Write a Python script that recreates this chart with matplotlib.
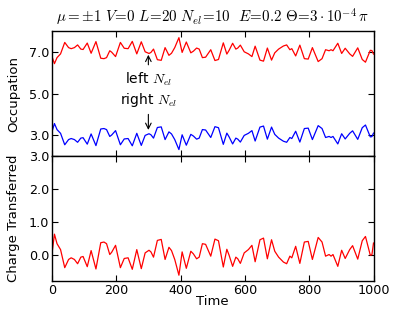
import numpy as np
import matplotlib
matplotlib.use("Agg")
import matplotlib.pyplot as plt
from matplotlib.ticker import FormatStrFormatter

# ---------------------------------------------------------------------------
# Data
# ---------------------------------------------------------------------------

time = [0, 8, 16, 27, 40, 52, 60, 70, 80, 90,
        97, 110, 122, 137, 152, 162, 170, 180, 186, 198,
        213, 225, 237, 250, 264, 278, 290, 302, 308, 316,
        328, 340, 352, 364, 372, 382, 395, 405, 418, 432,
        440, 450, 458, 468, 478, 494, 507, 518, 533, 544,
        551, 562, 572, 578, 586, 598, 611, 622, 632, 647,
        658, 670, 683, 693, 705, 720, 730, 740, 746, 758,
        771, 785, 797, 810, 828, 840, 851, 862, 868, 874,
        889, 901, 912, 926, 935, 951, 965, 975, 990, 995,
        1000]

charge = [0.00, 0.62, 0.33, 0.15, -0.40, -0.15, -0.10, -0.15, -0.28, -0.08,
          -0.06, -0.37, 0.12, -0.44, 0.36, 0.38, 0.33, 0.00, 0.07, 0.28,
          -0.40, -0.12, -0.10, -0.45, 0.15, -0.43, 0.05, 0.13, 0.08, -0.08,
          0.43, 0.46, -0.15, 0.22, 0.12, -0.15, -0.63, 0.08, -0.42, 0.10,
          0.02, -0.13, -0.08, 0.33, 0.31, -0.05, 0.47, 0.42, -0.38, 0.16,
          -0.02, -0.36, -0.08, -0.13, -0.27, 0.05, 0.15, 0.28, -0.22, 0.45,
          0.50, -0.13, 0.45, 0.10, -0.08, -0.23, -0.28, -0.05, -0.10, 0.25,
          -0.27, 0.38, 0.40, -0.15, 0.52, 0.38, -0.05, 0.00, -0.05, 0.00,
          -0.36, 0.13, -0.12, 0.15, 0.27, -0.14, 0.42, 0.55, -0.02, -0.01,
          0.35]

left_occ = [6.80, 6.44, 6.73, 6.91, 7.46, 7.21, 7.16, 7.21, 7.34, 7.14,
            7.12, 7.43, 6.94, 7.50, 6.70, 6.68, 6.73, 7.06, 6.99, 6.78,
            7.46, 7.18, 7.16, 7.51, 6.91, 7.49, 7.01, 6.93, 6.98, 7.14,
            6.63, 6.60, 7.21, 6.84, 6.94, 7.21, 7.69, 6.98, 7.48, 6.96,
            7.04, 7.19, 7.14, 6.73, 6.75, 7.11, 6.59, 6.64, 7.44, 6.90,
            7.08, 7.42, 7.14, 7.19, 7.33, 7.01, 6.91, 6.78, 7.28, 6.61,
            6.56, 7.19, 6.61, 6.96, 7.14, 7.29, 7.34, 7.11, 7.16, 6.81,
            7.33, 6.68, 6.66, 7.21, 6.54, 6.68, 7.11, 7.06, 7.11, 7.06,
            7.42, 6.93, 7.18, 6.91, 6.79, 7.20, 6.64, 6.51, 7.08, 7.07,
            6.90]

right_occ = [3.15, 3.56, 3.27, 3.09, 2.54, 2.79, 2.84, 2.79, 2.66, 2.86,
             2.88, 2.57, 3.06, 2.50, 3.30, 3.32, 3.27, 2.94, 3.01, 3.22,
             2.54, 2.82, 2.84, 2.49, 3.09, 2.51, 2.99, 3.07, 3.02, 2.86,
             3.37, 3.40, 2.79, 3.16, 3.06, 2.79, 2.31, 3.02, 2.52, 3.04,
             2.96, 2.81, 2.86, 3.27, 3.25, 2.89, 3.41, 3.36, 2.56, 3.10,
             2.92, 2.58, 2.86, 2.81, 2.67, 2.99, 3.09, 3.22, 2.72, 3.39,
             3.44, 2.81, 3.39, 3.04, 2.86, 2.71, 2.66, 2.89, 2.84, 3.19,
             2.67, 3.32, 3.34, 2.79, 3.46, 3.32, 2.89, 2.94, 2.89, 2.94,
             2.58, 3.07, 2.82, 3.09, 3.21, 2.80, 3.36, 3.49, 2.92, 2.93,
             3.10]

occ_ticks = [3.0, 5.0, 7.0]
charge_ticks = [0.0, 1.0, 2.0, 3.0]
time_ticks = [0, 200, 400, 600, 800, 1000]

title = (r"$\mu=\pm1\ V\!=\!0\ L\!=\!20\ N_{el}\!=\!10\ \ "
         r"E\!=\!0.2\ \Theta\!=\!3\cdot10^{-4}\,\pi$")

# ---------------------------------------------------------------------------
# Plot
# ---------------------------------------------------------------------------

plt.rcParams["mathtext.fontset"] = "cm"
plt.rcParams["font.family"] = "DejaVu Sans"

fig, (ax1, ax2) = plt.subplots(2, 1, sharex=True, figsize=(4.15, 3.12), dpi=100)
fig.subplots_adjust(left=0.125, right=0.9, top=0.9, bottom=0.1, hspace=0)

ax1.plot(time, left_occ, color="red", lw=0.9)
ax1.plot(time, right_occ, color="blue", lw=0.9)
ax1.set_ylim(2.0, 8.0)
ax1.set_yticks(occ_ticks)
ax1.set_ylabel("Occupation", fontsize=9.5, labelpad=6)
ax1.set_title(title, fontsize=10.8, pad=6)

ax1.annotate(r"left $N_{el}$", xy=(300, 7.0), xytext=(300, 5.7),
             ha="center", va="center", fontsize=10,
             arrowprops=dict(arrowstyle="->", lw=0.8, color="black"))
ax1.annotate(r"right $N_{el}$", xy=(300, 3.12), xytext=(300, 4.7),
             ha="center", va="center", fontsize=10,
             arrowprops=dict(arrowstyle="->", lw=0.8, color="black"))

ax2.plot(time, charge, color="red", lw=0.9)
ax2.set_ylim(-0.8, 3.0)
ax2.set_yticks(charge_ticks)
ax2.set_xlim(0, 1000)
ax2.set_xticks(time_ticks)
ax2.set_xlabel("Time", fontsize=9.5, labelpad=-1)
ax2.set_ylabel("Charge Transferred", fontsize=9.5, labelpad=6)

for ax in (ax1, ax2):
    ax.yaxis.set_major_formatter(FormatStrFormatter("%.1f"))
    ax.tick_params(direction="in", top=True, right=True, length=4,
                   labelsize=9.2, pad=2)
    for sp in ax.spines.values():
        sp.set_linewidth(1.0)

fig.align_ylabels([ax1, ax2])

plt.savefig("out.png", dpi=100)
